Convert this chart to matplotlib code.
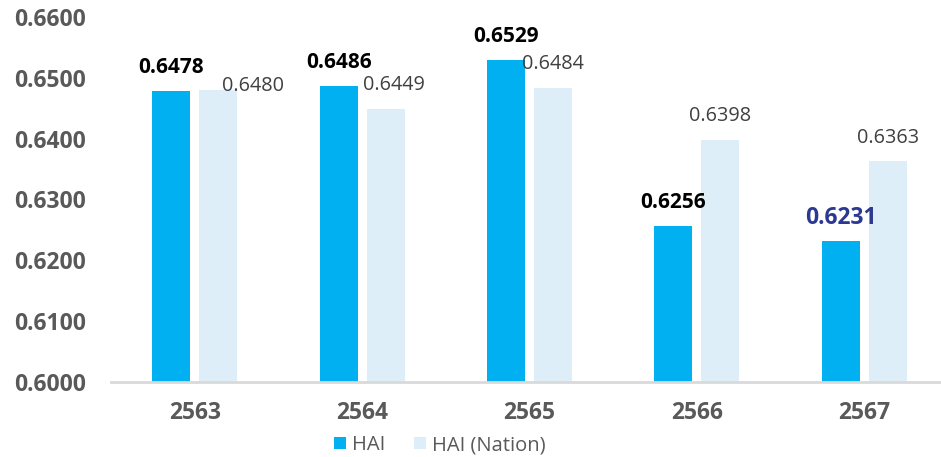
import numpy as np
import matplotlib
matplotlib.use("Agg")
import matplotlib.pyplot as plt

years = ["2563", "2564", "2565", "2566", "2567"]
hai = [0.6478, 0.6486, 0.6529, 0.6256, 0.6231]
hai_nation = [0.6480, 0.6449, 0.6484, 0.6398, 0.6363]
series_names = ["HAI", "HAI (Nation)"]

blue = "#00B0F0"
light_blue = "#DDEEF9"
tick_gray = "#595959"
label_gray = "#404040"
navy = "#2B3990"

plt.rcParams['font.family'] = ['Open Sans', 'DejaVu Sans']

fig = plt.figure(figsize=(9.41, 4.57), dpi=100)
ax = fig.add_axes([111 / 941, 1 - 382 / 457, 837 / 941, 365 / 457])

x = np.arange(len(years))
w = 0.227
off = 0.14
ax.bar(x - off, hai, w, color=blue, label=series_names[0])
ax.bar(x + off, hai_nation, w, color=light_blue, label=series_names[1])

ax.set_xlim(-0.5, len(years) - 0.5)
ax.set_ylim(0.60, 0.66)
yt = np.arange(0.60, 0.6601, 0.01)
ax.set_yticks(yt)
ax.set_yticklabels([f"{v:.4f}" for v in yt])
ax.set_xticks(x)
ax.set_xticklabels(years)

for s in ["top", "right", "left"]:
    ax.spines[s].set_visible(False)
ax.spines["bottom"].set_color("#D9D9D9")
ax.spines["bottom"].set_linewidth(2)
ax.tick_params(axis="both", length=0, labelsize=16.5, labelcolor=tick_gray)
ax.tick_params(axis="y", pad=18)
ax.tick_params(axis="x", pad=14)
for t in ax.get_xticklabels() + ax.get_yticklabels():
    t.set_fontweight("bold")

# data labels (pixel offsets from bar top)
for i, v in enumerate(hai):
    last = i == len(hai) - 1
    ax.annotate(f"{v:.4f}", (x[i] - off, v), xytext=(0, 17), textcoords="offset points",
                ha="center", va="center", fontsize=16.5 if last else 15,
                fontweight="bold", color=navy if last else "black")

nation_shift = [(25, 3), (6, 17), (0, 17), (0, 17), (0, 17)]
for i, v in enumerate(hai_nation):
    dx, dy = nation_shift[i]
    ax.annotate(f"{v:.4f}", (x[i] + off, v), xytext=(dx, dy), textcoords="offset points",
                ha="center", va="center", fontsize=14.3, color=label_gray)

fig.legend(loc="center", bbox_to_anchor=(440 / 941, 1 - 445 / 457), ncol=2, frameon=False,
           fontsize=14.5, labelcolor=tick_gray, handlelength=0.6, handleheight=0.6,
           handletextpad=0.3, columnspacing=1.4)

fig.savefig("out.png", dpi=100)
